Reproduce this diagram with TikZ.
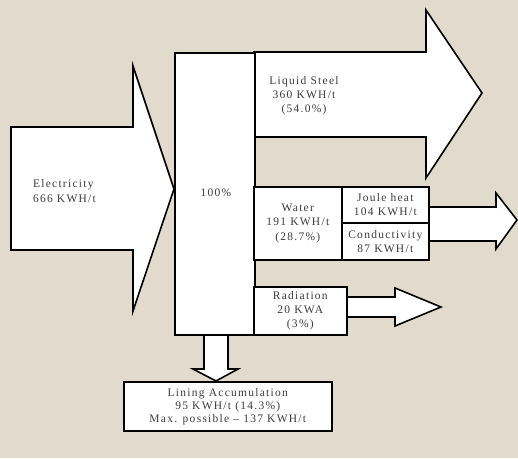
\documentclass[tikz,border=0pt]{standalone}
\usepackage{fontspec}
\setmainfont[LetterSpace=11]{Liberation Serif}
\usepackage{tikz}
\usetikzlibrary{positioning}
\definecolor{paper}{RGB}{226,218,205}
\definecolor{ink}{RGB}{60,60,60}

\begin{document}
\begin{tikzpicture}[x=1pt, y=-1pt,
    box/.style={draw, fill=white, line width=1.6pt, inner sep=0pt, anchor=north west},
    flow/.style={draw, fill=white, line width=1.6pt, line join=miter},
    lbl/.style={text=ink, font=\fontsize{11.5}{14.2}\selectfont, align=center}]
    % background
    \fill[paper] (0,0) rectangle (518,458);
    \useasboundingbox (0,0) rectangle (518,458);

    % arrows
    \draw[flow] (11,127) -- (133,127) -- (133,66) -- (174,189) -- (133,311) -- (133,250) -- (11,250) -- cycle;
    \draw[flow] (254,52) -- (426,52) -- (426,10) -- (482,93) -- (426,178) -- (426,137) -- (254,137) -- cycle;
    \draw[flow] (428,207) -- (496,207) -- (496,193) -- (517,220) -- (496,249) -- (496,241) -- (428,241) -- cycle;
    \draw[flow] (346,297) -- (395,297) -- (395,288) -- (441,307) -- (395,326) -- (395,317) -- (346,317) -- cycle;
    \draw[flow] (204,334) -- (204,369) -- (193,369) -- (216,381) -- (238,369) -- (228,369) -- (228,334) -- cycle;

    % boxes
    \node[box, minimum width=80pt, minimum height=282pt] (total) at (174,52) {};
    \node[box, minimum width=88pt, minimum height=73pt] (water) at (253,186) {};
    \node[box, minimum width=87pt, minimum height=36pt] (joule) at (341,186) {};
    \node[box, minimum width=87pt, minimum height=37pt] (cond) at (341,222) {};
    \node[box, minimum width=93pt, minimum height=48pt] (rad) at (253,286) {};
    \node[box, minimum width=208pt, minimum height=49pt] (lining) at (123,381) {};

    % labels
    \node[lbl, align=left, anchor=west] (elec) at (29.5,191) {Electricity\\666 KWH/t};
    \node[lbl] (pct) at (216,193) {100\%};
    \node[lbl] (steel) at (304,96) {Liquid Steel\\360 KWH/t\\(54.0\%)};
    \node[lbl] at (water.center) {Water\\191 KWH/t\\(28.7\%)};
    \node[lbl] at (joule.center) {Joule heat\\104 KWH/t};
    \node[lbl] at (cond.center) {Conductivity\\87 KWH/t};
    \node[lbl] at (rad.center) {Radiation\\20 KWA\\(3\%)};
    \node[lbl, font=\fontsize{11.5}{13}\selectfont] at (lining.center) {Lining Accumulation\\95 KWH/t (14.3\%)\\Max. possible -- 137 KWH/t};
\end{tikzpicture}
\end{document}
